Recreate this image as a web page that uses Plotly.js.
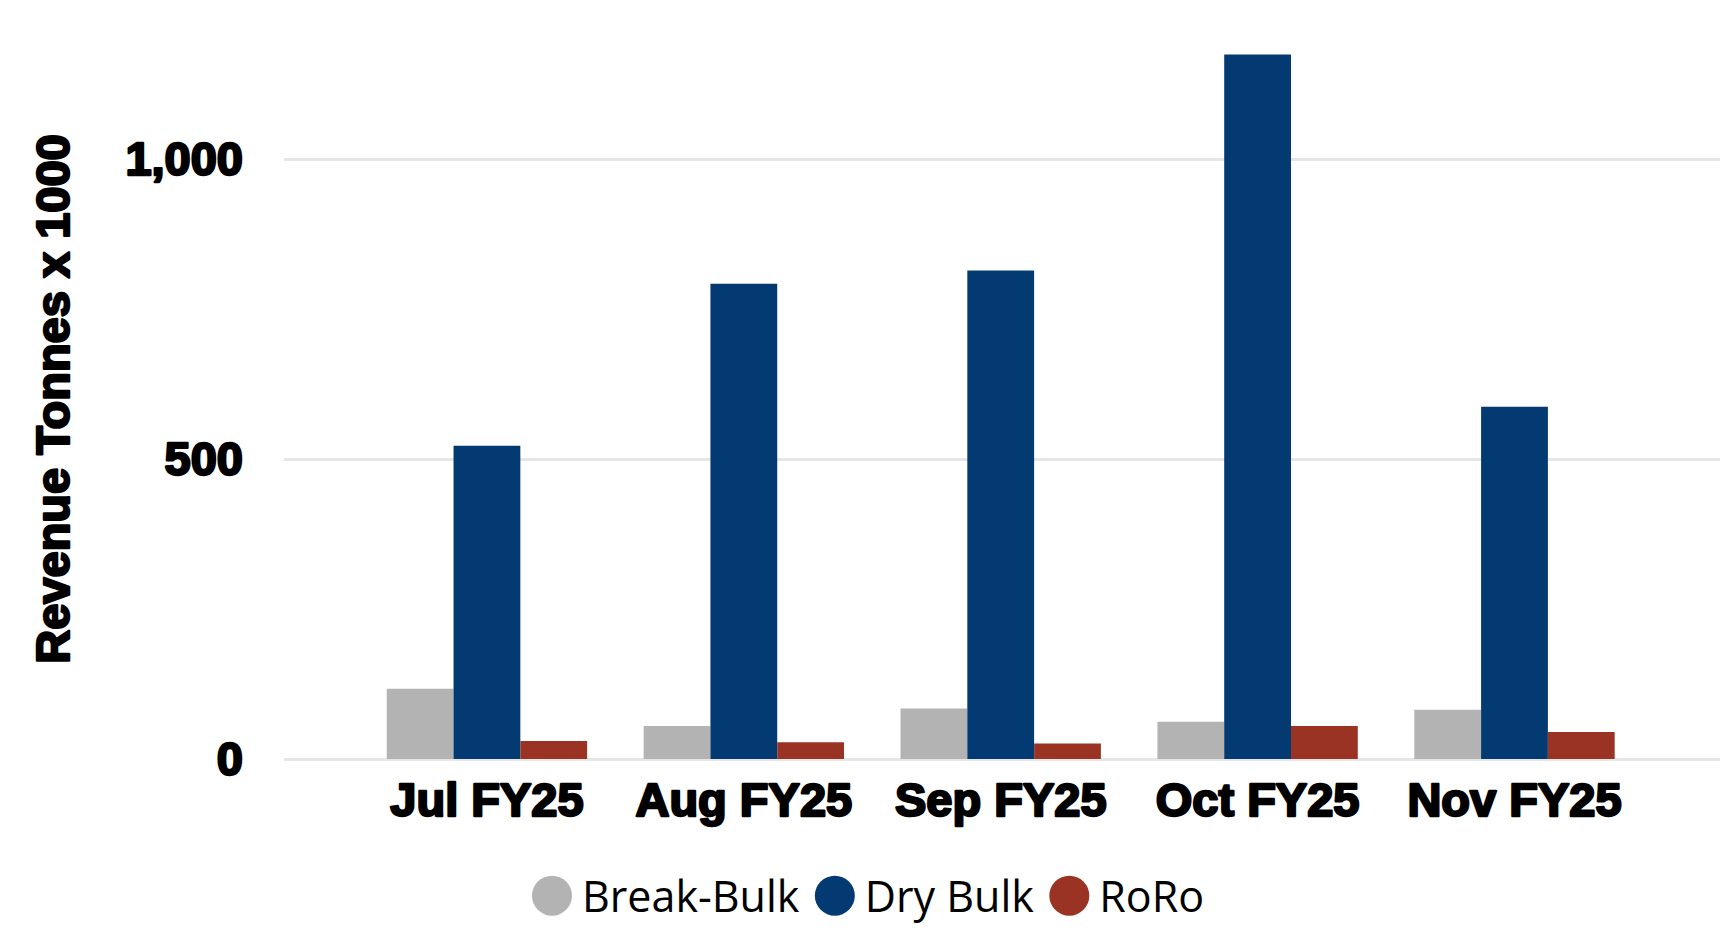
<!DOCTYPE html>
<html>
<head>
<meta charset="utf-8">
<script src="https://cdn.plot.ly/plotly-3.0.1.min.js"></script>
<style>
html,body{margin:0;padding:0;background:#fff;}
#chart{width:1732px;height:935px;}
#chart .xtick text, #chart .ytick text, #chart .g-ytitle text {
  stroke:#000; stroke-width:2.4px; stroke-linejoin:round; paint-order:stroke;
}
</style>
</head>
<body>
<div id="chart"></div>
<script>
const categories = ["Jul FY25", "Aug FY25", "Sep FY25", "Oct FY25", "Nov FY25"];
const breakBulk = [117, 55, 84, 62, 82];
const dryBulk = [522, 792, 814, 1174, 587];
const roro = [30, 28, 26, 55, 45];
const seriesNames = ["Break-Bulk", "Dry Bulk", "RoRo"];
const seriesColors = ["#b3b3b3", "#023a71", "#9a3324"];
const yTickVals = [0, 500, 1000];
const yTickText = ["0", "500", "1,000"];

const seriesData = [breakBulk, dryBulk, roro];
const traces = seriesData.map((vals, i) => ({
  type: "bar",
  x: categories,
  y: vals,
  name: seriesNames[i],
  marker: {color: seriesColors[i], line: {width: 0}},
  hoverinfo: "skip"
}));

const tickFont = {family: "Liberation Sans, Arial, sans-serif", size: 47, color: "#000", weight: 700};

const layout = {
  width: 1732,
  height: 935,
  paper_bgcolor: "#fff",
  plot_bgcolor: "#fff",
  barmode: "group",
  bargap: 0.22,
  bargroupgap: 0,
  margin: {l: 284, r: 12, t: 39, b: 176},
  showlegend: true,
  legend: {
    orientation: "h",
    xref: "container",
    yref: "container",
    x: 0.5,
    xanchor: "center",
    y: 0.042,
    yanchor: "middle",
    font: {family: "Open Sans, Noto Sans, sans-serif", size: 43, color: "#000"},
    itemwidth: 50,
    traceorder: "normal",
    bgcolor: "rgba(0,0,0,0)"
  },
  xaxis: {
    type: "category",
    range: [-0.79, 4.8],
    showgrid: false,
    showline: false,
    zeroline: false,
    ticks: "",
    tickfont: tickFont,
    ticklabelstandoff: 9,
    fixedrange: true
  },
  yaxis: {
    range: [0, 1200],
    tickvals: yTickVals,
    ticktext: yTickText,
    showgrid: true,
    gridcolor: "#e6e6e6",
    gridwidth: 3,
    zeroline: true,
    zerolinecolor: "#e6e6e6",
    zerolinewidth: 3,
    showline: false,
    ticks: "",
    tickfont: tickFont,
    ticklabelstandoff: 40,
    automargin: false,
    title: {
      text: "Revenue Tonnes x 1000",
      font: tickFont,
      standoff: 40
    },
    fixedrange: true
  }
};

Plotly.newPlot("chart", traces, layout, {staticPlot: true, displayModeBar: false}).then(() => {
  document.querySelectorAll(".legend .legendpoints path").forEach(p => {
    p.setAttribute("d", "M20,0A20,20 0 1,1 0,-20A20,20 0 0,1 20,0Z");
  });
});
</script>
</body>
</html>
